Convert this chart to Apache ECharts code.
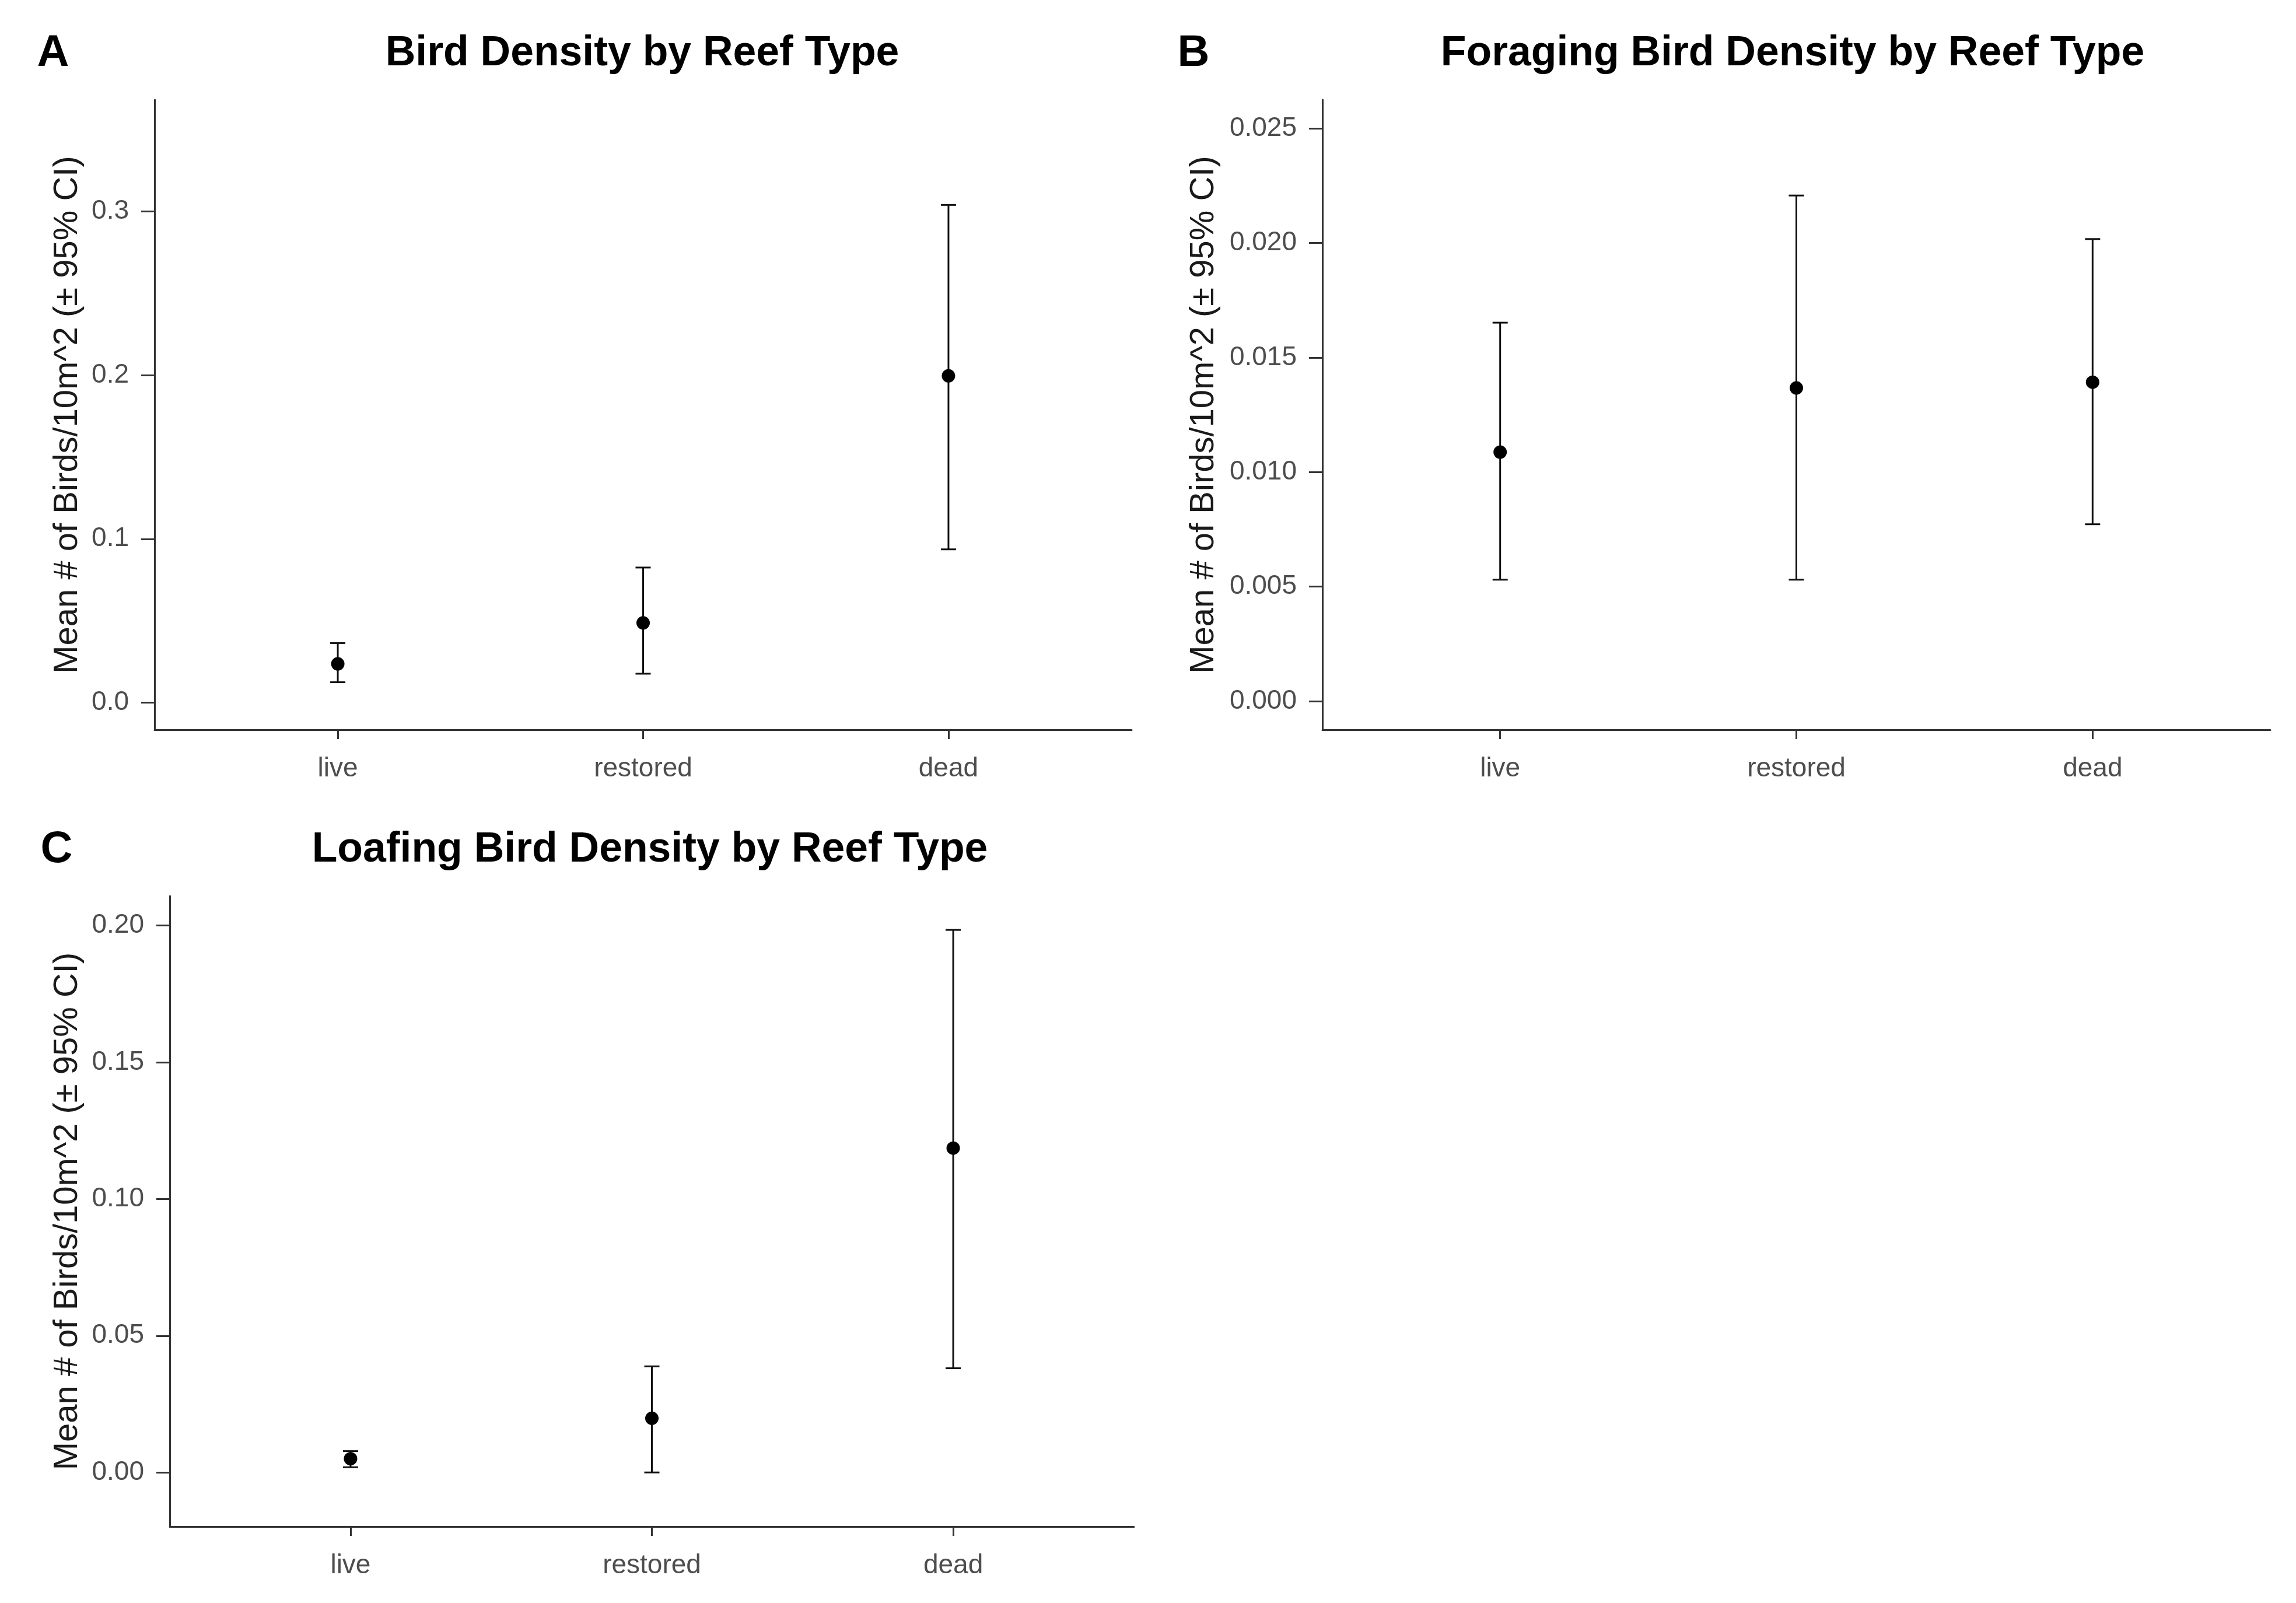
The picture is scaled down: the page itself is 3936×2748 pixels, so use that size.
<!DOCTYPE html>
<html>
<head>
<meta charset="utf-8">
<script src="https://cdn.jsdelivr.net/npm/echarts@6/dist/echarts.min.js"></script>
<style>
html,body{margin:0;padding:0;background:#fff;}
#chart{width:3936px;height:2748px;}
</style>
</head>
<body>
<div id="chart"></div>
<script>
// ---- data ----
var categories = ['live', 'restored', 'dead'];

var birdMean = [0.0237, 0.0487, 0.1995];
var birdLow  = [0.0125, 0.0177, 0.0936];
var birdHigh = [0.0364, 0.0825, 0.3038];

var forageMean = [0.01087, 0.01367, 0.01392];
var forageLow  = [0.00530, 0.00530, 0.00772];
var forageHigh = [0.01652, 0.02207, 0.02017];

var loafMean = [0.0050, 0.0198, 0.1186];
var loafLow  = [0.0019, 0.0000, 0.0381];
var loafHigh = [0.0078, 0.0388, 0.1984];

var birdTicks = [0, 0.1, 0.2, 0.3];
var forageTicks = [0, 0.005, 0.010, 0.015, 0.020, 0.025];
var loafTicks = [0, 0.05, 0.10, 0.15, 0.20];

var panelTitles = ['Bird Density by Reef Type', 'Foraging Bird Density by Reef Type', 'Loafing Bird Density by Reef Type'];
var panelLetters = ['A', 'B', 'C'];
var yTitle = 'Mean # of Birds/10m^2 (\u00b1 95% CI)';

// ---- layout ----
var FONT = "'Liberation Sans', Arial, sans-serif";
var AXIS_COLOR = '#333333';
var LABEL_COLOR = '#4d4d4d';

var grids = [
  {left: 265, top: 171, width: 1675, height: 1080},
  {left: 2267, top: 171, width: 1625, height: 1080},
  {left: 291, top: 1536, width: 1653, height: 1081}
];
var yRanges = [[-0.0165, 0.368], [-0.00125, 0.02625], [-0.0198, 0.2108]];
var yTickSets = [birdTicks, forageTicks, loafTicks];
var yDecimals = [1, 3, 2];
var nameGaps = [120, 174, 146];
var titleCenters = [[1101, 92], [3073, 92], [1114, 1457]];
var letterPos = [[91, 92], [2046, 92], [97, 1457]];

var means = [birdMean, forageMean, loafMean];
var lows = [birdLow, forageLow, loafLow];
var highs = [birdHigh, forageHigh, loafHigh];

var xAxes = [], yAxes = [], series = [], graphics = [];

for (var p = 0; p < 3; p++) {
  (function (p) {
    xAxes.push({
      gridIndex: p, type: 'value', min: 0.4, max: 3.6,
      axisLine: {show: true, onZero: false, lineStyle: {color: AXIS_COLOR, width: 3}},
      axisTick: {show: true, length: 16, customValues: [1, 2, 3], lineStyle: {color: AXIS_COLOR, width: 3}},
      axisLabel: {
        show: true, customValues: [1, 2, 3], margin: 44,
        fontFamily: FONT, fontSize: 46, color: LABEL_COLOR,
        formatter: function (v) { return categories[Math.round(v) - 1]; }
      },
      splitLine: {show: false}
    });
    var dec = yDecimals[p];
    yAxes.push({
      gridIndex: p, type: 'value', min: yRanges[p][0], max: yRanges[p][1],
      name: yTitle, nameLocation: 'middle', nameRotate: 90, nameGap: nameGaps[p],
      nameTextStyle: {fontFamily: FONT, fontSize: 58, color: '#1a1a1a'},
      axisLine: {show: true, onZero: false, lineStyle: {color: AXIS_COLOR, width: 3}},
      axisTick: {show: true, length: 23, customValues: yTickSets[p], lineStyle: {color: AXIS_COLOR, width: 3}},
      axisLabel: {
        show: true, customValues: yTickSets[p], margin: 44,
        fontFamily: FONT, fontSize: 46, color: LABEL_COLOR,
        formatter: function (v) { return Number(v).toFixed(dec); }
      },
      splitLine: {show: false}
    });
    var errData = [], ptData = [];
    for (var i = 0; i < categories.length; i++) {
      errData.push([i + 1, lows[p][i], highs[p][i]]);
      ptData.push([i + 1, means[p][i]]);
    }
    series.push({
      type: 'custom', xAxisIndex: p, yAxisIndex: p, data: errData,
      encode: {x: 0, y: [1, 2]},
      renderItem: function (params, api) {
        var x = api.value(0);
        var lo = api.coord([x, api.value(1)]);
        var hi = api.coord([x, api.value(2)]);
        var hw = 13;
        var st = {stroke: '#111111', lineWidth: 3};
        return {
          type: 'group',
          children: [
            {type: 'line', shape: {x1: lo[0], y1: lo[1], x2: hi[0], y2: hi[1]}, style: st},
            {type: 'line', shape: {x1: lo[0] - hw, y1: lo[1], x2: lo[0] + hw, y2: lo[1]}, style: st},
            {type: 'line', shape: {x1: hi[0] - hw, y1: hi[1], x2: hi[0] + hw, y2: hi[1]}, style: st}
          ]
        };
      },
      silent: true, z: 2
    });
    series.push({
      type: 'scatter', xAxisIndex: p, yAxisIndex: p, data: ptData,
      symbol: 'circle', symbolSize: 23,
      itemStyle: {color: '#000000', opacity: 1}, silent: true, z: 3
    });
    graphics.push({
      type: 'text', x: titleCenters[p][0], y: titleCenters[p][1],
      style: {text: panelTitles[p], fontFamily: FONT, fontWeight: 'bold', fontSize: 71.5,
              fill: '#000000', textAlign: 'center', textVerticalAlign: 'middle'}
    });
    graphics.push({
      type: 'text', x: letterPos[p][0], y: letterPos[p][1],
      style: {text: panelLetters[p], fontFamily: FONT, fontWeight: 'bold', fontSize: 76,
              fill: '#000000', textAlign: 'center', textVerticalAlign: 'middle'}
    });
  })(p);
}

var chart = echarts.init(document.getElementById('chart'), null, {renderer: 'canvas', width: 3936, height: 2748});
chart.setOption({
  backgroundColor: '#ffffff',
  animation: false,
  grid: grids,
  xAxis: xAxes,
  yAxis: yAxes,
  series: series,
  graphic: graphics
});
</script>
</body>
</html>
